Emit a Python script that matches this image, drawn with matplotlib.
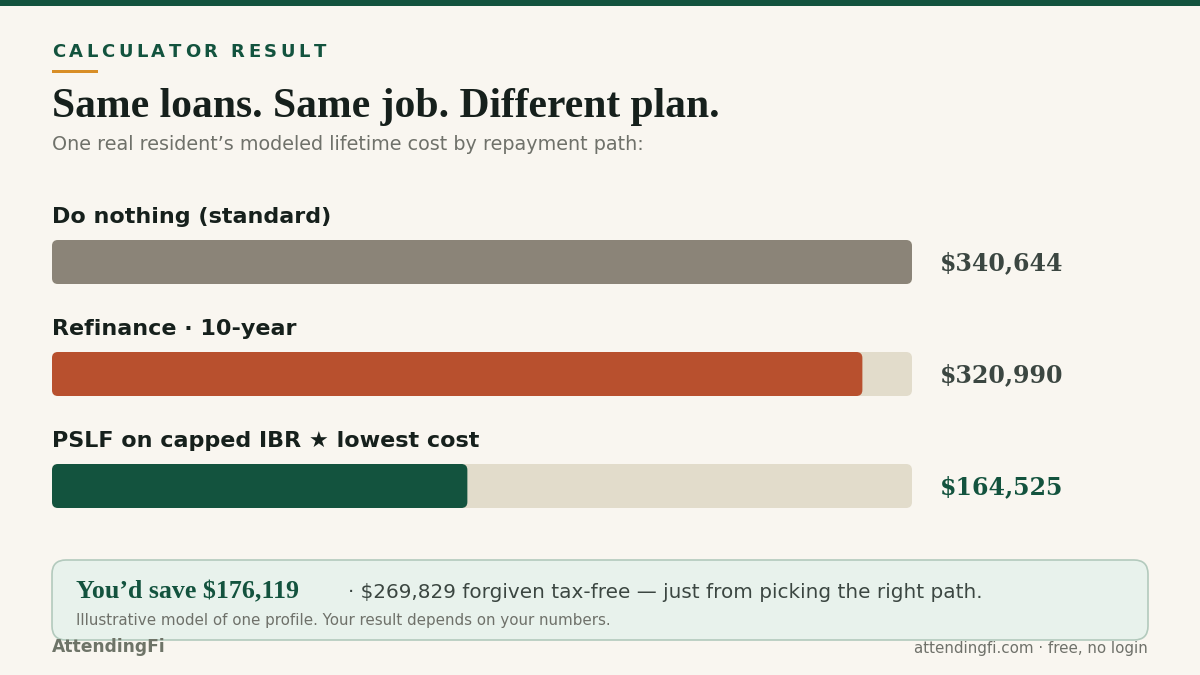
import matplotlib
matplotlib.use("Agg")
import matplotlib.pyplot as plt
from matplotlib.patches import FancyBboxPatch, Rectangle

# data
plans = ["Do nothing (standard)", "Refinance · 10-year", "PSLF on capped IBR ★ lowest cost"]
costs = [340644, 320990, 164525]
bar_colors = ["#8B8478", "#B8502E", "#13533E"]
value_colors = ["#3B4641", "#3B4641", "#13533E"]
savings = costs[0] - costs[2]
forgiven = 269829

BG = "#F9F6F0"
GREEN = "#13533E"
TRACK = "#E2DCCB"
GRAY = "#6F716A"
DARK = "#16201C"

fig = plt.figure(figsize=(12, 6.75), dpi=100, facecolor=BG)

# overlay axes in pixel coordinates
ax = fig.add_axes([0, 0, 1, 1])
ax.set_xlim(0, 1200)
ax.set_ylim(675, 0)
ax.axis("off")

# top strip
ax.add_patch(Rectangle((0, 0), 1200, 6, color=GREEN, lw=0))

# kicker with letter spacing
renderer = fig.canvas.get_renderer()
x = 52
for ch in "CALCULATOR RESULT":
    t = ax.text(x, 52, ch, fontsize=13, fontweight="bold", color=GREEN,
                va="center", ha="left", family="DejaVu Sans")
    w = t.get_window_extent(renderer).width
    x += w + 3.6
ax.add_patch(Rectangle((52, 70), 46, 3, color="#D88E27", lw=0))

ax.text(52, 107, "Same loans. Same job. Different plan.", fontsize=30, fontweight="bold",
        color=DARK, family="Liberation Serif", va="center", ha="left")
ax.text(52, 145, "One real resident\u2019s modeled lifetime cost by repayment path:",
        fontsize=13.8, color=GRAY, va="center", ha="left")

# bar axes, x in dollars, y in pixels
bax = fig.add_axes([52 / 1200, 0, 860 / 1200, 1])
bax.set_xlim(0, costs[0])
bax.set_ylim(675, 0)
bax.axis("off")
bax.patch.set_alpha(0)

px = costs[0] / 860.0
bar_h = 44
tops = [240, 352, 464]
for i, (name, val) in enumerate(zip(plans, costs)):
    top = tops[i]
    track = FancyBboxPatch((0, top), costs[0], bar_h,
                           boxstyle="round,pad=0,rounding_size=%f" % (6 * px),
                           mutation_aspect=1 / px, fc=TRACK, ec="none")
    bax.add_patch(track)
    bar = FancyBboxPatch((0, top), val, bar_h,
                         boxstyle="round,pad=0,rounding_size=%f" % (6 * px),
                         mutation_aspect=1 / px, fc=bar_colors[i], ec="none")
    bax.add_patch(bar)
    ax.text(52, top - 23, name, fontsize=16, fontweight="bold", color=DARK,
            va="center", ha="left")
    ax.text(940, top + bar_h / 2 + 1, "${:,}".format(val), fontsize=17, fontweight="bold",
            color=value_colors[i], family="DejaVu Serif", va="center", ha="left")

# callout box
ax.add_patch(FancyBboxPatch((52, 560), 1096, 80, boxstyle="round,pad=0,rounding_size=14",
                            fc="#E8F2EC", ec="#B3CABD", lw=1.2))
ax.text(76, 592, "You\u2019d save ${:,}".format(savings), fontsize=18.6, fontweight="bold",
        color=GREEN, family="Liberation Serif", va="center", ha="left")
ax.text(348, 593, "· ${:,} forgiven tax-free — just from picking the right path.".format(forgiven),
        fontsize=14.4, color="#3B4641", va="center", ha="left")
ax.text(76, 621, "Illustrative model of one profile. Your result depends on your numbers.",
        fontsize=10.9, color=GRAY, va="center", ha="left")

# footer
ax.text(52, 647, "AttendingFi", fontsize=12.3, fontweight="bold", color="#6E7468",
        va="center", ha="left")
ax.text(1148, 648, "attendingfi.com · free, no login", fontsize=10.9, color=GRAY,
        va="center", ha="right")

fig.savefig("out.png", dpi=100, facecolor=BG)
